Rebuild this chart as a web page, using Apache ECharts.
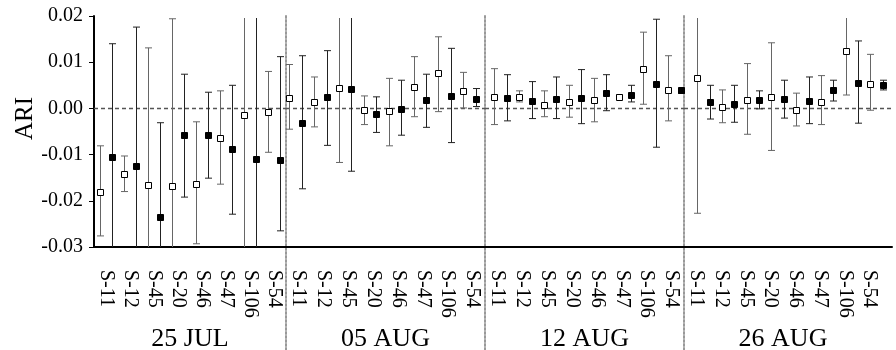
<!DOCTYPE html>
<html>
<head>
<meta charset="utf-8">
<script src="https://cdn.jsdelivr.net/npm/echarts@6/dist/echarts.min.js"></script>
<style>
  html, body { margin: 0; padding: 0; background: #fff; }
  #chart { width: 896px; height: 350px; }
</style>
</head>
<body>
<div id="chart"></div>
<script>
// sites along each panel, panels are sampling dates
const sites = ['S-11', 'S-12', 'S-45', 'S-20', 'S-46', 'S-47', 'S-106', 'S-54'];
const dates = ['25 JUL', '05 AUG', '12 AUG', '26 AUG'];
const yMin = -0.03, yMax = 0.02, yStep = 0.01;

// ARI, open squares (mean / low / high); 0.03 / -0.04 = bar runs off the plot
const jul25Open   = [-0.0180, -0.0141, -0.0166, -0.0168, -0.0164, -0.0063, -0.0015, -0.0007];
const jul25OpenLo = [-0.0276, -0.0180, -0.0400, -0.0400, -0.0293, -0.0164, -0.0400, -0.0095];
const jul25OpenHi = [-0.0081, -0.0103,  0.0131,  0.0194, -0.0029,  0.0038,  0.0300,  0.0080];
const jul25Fill   = [-0.0105, -0.0125, -0.0236, -0.0058, -0.0058, -0.0088, -0.0109, -0.0112];
const jul25FillLo = [-0.0400, -0.0400, -0.0400, -0.0192, -0.0151, -0.0229, -0.0400, -0.0265];
const jul25FillHi = [ 0.0140,  0.0176, -0.0031,  0.0074,  0.0035,  0.0050,  0.0300,  0.0112];

const aug05Open   = [ 0.0022,  0.0013,  0.0044, -0.0003, -0.0006,  0.0047,  0.0077,  0.0037];
const aug05OpenLo = [-0.0045, -0.0040, -0.0117, -0.0035, -0.0081, -0.0018, -0.0007,  0.0001];
const aug05OpenHi = [ 0.0095,  0.0068,  0.0300,  0.0027,  0.0065,  0.0112,  0.0155,  0.0078];
const aug05Fill   = [-0.0032,  0.0024,  0.0042, -0.0013, -0.0001,  0.0018,  0.0027,  0.0020];
const aug05FillLo = [-0.0174, -0.0080, -0.0136, -0.0052, -0.0058, -0.0041, -0.0074,  0.0004];
const aug05FillHi = [ 0.0114,  0.0125,  0.0300,  0.0025,  0.0061,  0.0074,  0.0130,  0.0043];

const aug12Open   = [ 0.0024,  0.0024,  0.0008,  0.0014,  0.0019,  0.0025,  0.0086,  0.0039];
const aug12OpenLo = [-0.0035,  0.0014, -0.0018, -0.0019, -0.0029,  0.0021,  0.0009, -0.0027];
const aug12OpenHi = [ 0.0086,  0.0038,  0.0038,  0.0050,  0.0065,  0.0029,  0.0165,  0.0114];
const aug12Fill   = [ 0.0023,  0.0017,  0.0021,  0.0022,  0.0034,  0.0030,  0.0053,  0.0039];
const aug12FillLo = [-0.0027, -0.0022, -0.0022, -0.0033, -0.0005,  0.0014, -0.0084,  0.0033];
const aug12FillHi = [ 0.0073,  0.0058,  0.0068,  0.0084,  0.0073,  0.0050,  0.0193,  0.0043];

const aug26Open   = [ 0.0065,  0.0004,  0.0018,  0.0025, -0.0003,  0.0014,  0.0125,  0.0053];
const aug26OpenLo = [-0.0227, -0.0031, -0.0056, -0.0091, -0.0038, -0.0035,  0.0029, -0.0004];
const aug26OpenHi = [ 0.0300,  0.0040,  0.0097,  0.0142,  0.0033,  0.0071,  0.0300,  0.0117];
const aug26Fill   = [ 0.0013,  0.0010,  0.0019,  0.0020,  0.0016,  0.0039,  0.0056,  0.0050];
const aug26FillLo = [-0.0023, -0.0030, -0.0001, -0.0021, -0.0033,  0.0016, -0.0032,  0.0040];
const aug26FillHi = [ 0.0050,  0.0050,  0.0038,  0.0061,  0.0068,  0.0061,  0.0146,  0.0061];

const panels = [
  { open: [jul25Open, jul25OpenLo, jul25OpenHi], fill: [jul25Fill, jul25FillLo, jul25FillHi] },
  { open: [aug05Open, aug05OpenLo, aug05OpenHi], fill: [aug05Fill, aug05FillLo, aug05FillHi] },
  { open: [aug12Open, aug12OpenLo, aug12OpenHi], fill: [aug12Fill, aug12FillLo, aug12FillHi] },
  { open: [aug26Open, aug26OpenLo, aug26OpenHi], fill: [aug26Fill, aug26FillLo, aug26FillHi] }
];

const font = 'Liberation Serif';
const lefts = [94, 286, 485, 684];
const widths = [192, 199, 199, 198];
const nudge = [0, -3, 3, 7]; // px shift of each pair off its tick, per panel
const tailW = 10;            // x axis runs on a little past the last panel

var myChart = echarts.init(document.getElementById('chart'));

function toRows(arr) {
  return arr[0].map((m, i) => [i, m, arr[1][i], arr[2][i]]);
}

function errorBar(shift, px, fill, barColor, zeroExtra) {
  return function (params, api) {
    const x = Math.round(api.coord([api.value(0), 0])[0] + shift * api.size([1, 0])[0] + px) + 0.5;
    const top = api.coord([0, yMax])[1];
    const bot = api.coord([0, yMin])[1];
    const yMid = api.coord([0, api.value(1)])[1];
    const yLo = api.coord([0, api.value(2)])[1];
    const yHi = api.coord([0, api.value(3)])[1];
    const lo = Math.min(yLo, bot), hi = Math.max(yHi, top + 2);
    const cap = 3.5;
    const st = { stroke: barColor, lineWidth: 1 };
    const kids = [];
    if (zeroExtra != null && params.dataIndex === 0) {
      const cs = params.coordSys;
      const y0 = Math.round(api.coord([0, 0])[1]) + 0.5;
      kids.push({ type: 'line', z2: -1,
        shape: { x1: cs.x, y1: y0, x2: cs.x + cs.width + zeroExtra, y2: y0 },
        style: { stroke: '#555', lineWidth: 1.5, lineDash: [4, 3] } });
    }
    kids.push({ type: 'line', shape: { x1: x, y1: hi, x2: x, y2: lo }, style: st });
    if (yHi >= top) kids.push({ type: 'line', shape: { x1: x - cap, y1: yHi, x2: x + cap, y2: yHi }, style: st });
    if (yLo <= bot) kids.push({ type: 'line', shape: { x1: x - cap, y1: yLo, x2: x + cap, y2: yLo }, style: st });
    kids.push({ type: 'rect', shape: { x: x - 3, y: Math.round(yMid) - 2.5, width: 6, height: 6 },
      style: { fill: fill, stroke: '#000', lineWidth: 1 } });
    return { type: 'group', children: kids };
  };
}

const grid = [], xAxis = [], yAxis = [], series = [];

panels.forEach((p, k) => {
  grid.push({ left: lefts[k], width: widths[k], top: 16, bottom: 103, outerBoundsMode: 'none' });
  xAxis.push({
    gridIndex: k, type: 'category', data: sites,
    name: dates[k], nameLocation: 'middle', nameGap: 72,
    nameTextStyle: { fontFamily: font, fontSize: 26, color: '#000' },
    axisLine: { onZero: false, lineStyle: { color: '#000', width: 2 } },
    axisTick: { alignWithLabel: true, length: 5, lineStyle: { color: '#000', width: 1 } },
    axisLabel: { rotate: -90, interval: 0, margin: 23, fontFamily: font, fontSize: 20, color: '#000' },
    splitLine: { show: false }
  });
  yAxis.push({
    gridIndex: k, type: 'value', min: yMin, max: yMax, interval: yStep,
    show: k === 0,
    name: k === 0 ? 'ARI' : '', nameLocation: 'middle', nameGap: 56,
    nameTextStyle: { fontFamily: font, fontSize: 25, color: '#000', padding: [0, 0, 0, 26] },
    axisLine: { show: true, onZero: false, lineStyle: { color: '#000', width: 2 } },
    axisTick: { show: true, length: 5, lineStyle: { color: '#000', width: 1 } },
    axisLabel: { margin: 11, fontFamily: font, fontSize: 20, color: '#000',
      formatter: v => v.toFixed(2) },
    splitLine: { show: false }
  });
  series.push({
    type: 'custom', xAxisIndex: k, yAxisIndex: k, clip: false,
    renderItem: errorBar(-0.25, nudge[k], '#fff', '#666', k === 3 ? tailW : 0),
    data: toRows(p.open)
  });
  series.push({
    type: 'custom', xAxisIndex: k, yAxisIndex: k, clip: false,
    renderItem: errorBar(0.25, nudge[k], '#000', '#222', null),
    data: toRows(p.fill)
  });
});

// last stretch of the x axis past the final tick
const tail = grid.length;
grid.push({ left: lefts[3] + widths[3], width: tailW, top: 16, bottom: 103, outerBoundsMode: 'none' });
xAxis.push({ gridIndex: tail, type: 'category', data: [''],
  axisLine: { onZero: false, lineStyle: { color: '#000', width: 2 } },
  axisTick: { show: false }, axisLabel: { show: false } });
yAxis.push({ gridIndex: tail, type: 'value', min: yMin, max: yMax, show: false });

// dotted separators between dates, running down through the labels
[1, 2, 3].forEach(k => {
  const g = grid.length;
  grid.push({ left: lefts[k], width: 10, top: 16, bottom: 0, outerBoundsMode: 'none' });
  xAxis.push({ gridIndex: g, type: 'category', data: [''], show: false });
  yAxis.push({
    gridIndex: g, type: 'value', min: 0, max: 1,
    axisLine: { show: true, onZero: false, lineStyle: { color: '#999', width: 2, type: [2, 2] } },
    axisTick: { show: false }, axisLabel: { show: false }, splitLine: { show: false }
  });
});

var option = {
  backgroundColor: '#fff',
  animation: false,
  grid: grid,
  xAxis: xAxis,
  yAxis: yAxis,
  series: series
};

option && myChart.setOption(option);
</script>
</body>
</html>
